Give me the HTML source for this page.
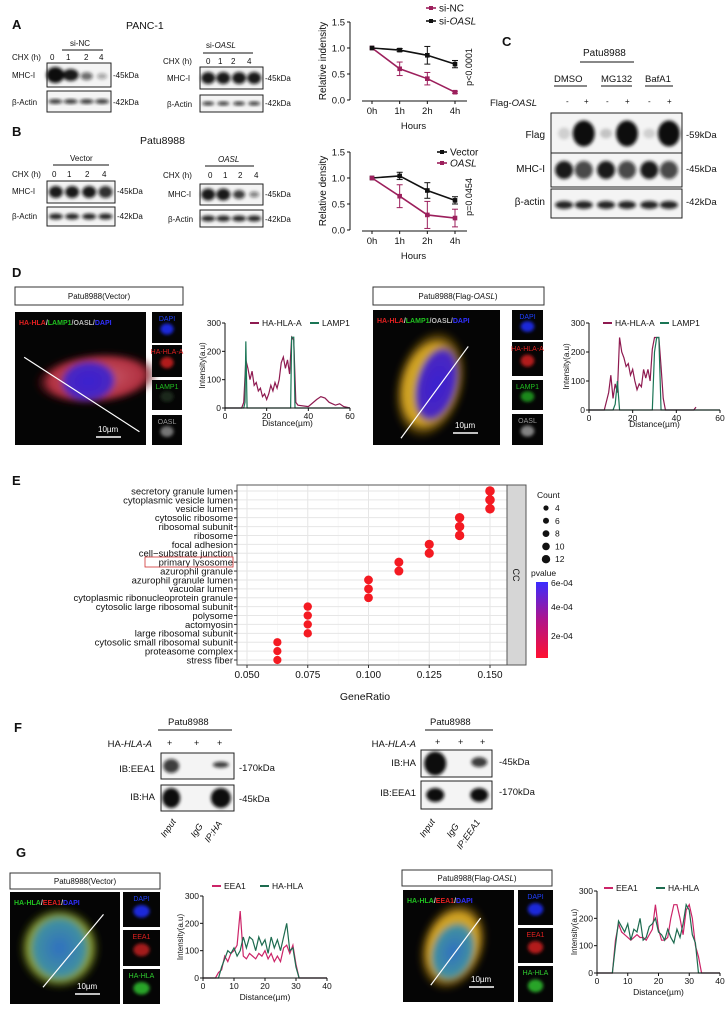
<!DOCTYPE html>
<html><head><meta charset="utf-8">
<style>
html,body{margin:0;padding:0;background:#fff;}
svg{display:block;font-family:"Liberation Sans",sans-serif;}
text{fill:#111;}
</style></head>
<body>
<svg id="fig" width="728" height="1020" viewBox="0 0 728 1020">
<defs>
<filter id="bl" x="-50%" y="-50%" width="200%" height="200%"><feGaussianBlur stdDeviation="1.6"/></filter>
<filter id="bl2" x="-50%" y="-50%" width="200%" height="200%"><feGaussianBlur stdDeviation="3"/></filter>
<radialGradient id="gBlue"><stop offset="0" stop-color="#3a1fd0"/><stop offset="0.8" stop-color="#4a28c0"/><stop offset="1" stop-color="#4a28c0" stop-opacity="0"/></radialGradient>
<radialGradient id="gRed"><stop offset="0" stop-color="#d06070"/><stop offset="0.75" stop-color="#b03040"/><stop offset="1" stop-color="#300" stop-opacity="0"/></radialGradient>
<radialGradient id="gYel"><stop offset="0" stop-color="#c8b040"/><stop offset="0.7" stop-color="#d0a020"/><stop offset="1" stop-color="#604000" stop-opacity="0"/></radialGradient>
<radialGradient id="gGreen"><stop offset="0" stop-color="#70a030"/><stop offset="0.75" stop-color="#90a030"/><stop offset="1" stop-color="#203000" stop-opacity="0"/></radialGradient>
<radialGradient id="gTeal"><stop offset="0" stop-color="#3070c0"/><stop offset="0.8" stop-color="#4090a0"/><stop offset="1" stop-color="#4090a0" stop-opacity="0"/></radialGradient>
<linearGradient id="pcol" x1="0" y1="0" x2="0" y2="1"><stop offset="0" stop-color="#3a2cff"/><stop offset="0.5" stop-color="#b0138a"/><stop offset="1" stop-color="#ff1030"/></linearGradient>
</defs>

<g font-weight="bold" font-size="13">
<text x="12" y="29">A</text>
<text x="12" y="136">B</text>
<text x="502" y="46">C</text>
<text x="12" y="277">D</text>
<text x="12" y="485">E</text>
<text x="14" y="732">F</text>
<text x="16" y="857">G</text>
</g>

<g font-size="9" id="static-text">
<text x="126" y="29" font-size="10.5">PANC-1</text>
<text x="140" y="144" font-size="10.5">Patu8988</text>
<text x="70" y="46" font-size="8">si-NC</text>
<line x1="62" y1="50" x2="103" y2="50" stroke="#111" stroke-width="1"/>
<text x="12" y="60" font-size="8">CHX (h)</text>
<text x="50" y="60" font-size="8">0</text><text x="66" y="60" font-size="8">1</text><text x="84" y="60" font-size="8">2</text><text x="99" y="60" font-size="8">4</text>
<text x="12" y="78" font-size="8">MHC-I</text><text x="12" y="105" font-size="8">β-Actin</text>
<text x="113" y="78" font-size="8">-45kDa</text><text x="113" y="105" font-size="8">-42kDa</text>
<text x="206" y="48" font-size="8">si-<tspan font-style="italic">OASL</tspan></text>
<line x1="203" y1="53" x2="253" y2="53" stroke="#111"/>
<text x="163" y="64" font-size="8">CHX (h)</text>
<text x="206" y="64" font-size="8">0</text><text x="218" y="64" font-size="8">1</text><text x="231" y="64" font-size="8">2</text><text x="247" y="64" font-size="8">4</text>
<text x="167" y="81" font-size="8">MHC-I</text><text x="167" y="107" font-size="8">β-Actin</text>
<text x="265" y="81" font-size="8">-45kDa</text><text x="265" y="106" font-size="8">-42kDa</text>
<text x="70" y="161" font-size="8">Vector</text>
<line x1="53" y1="165" x2="109" y2="165" stroke="#111"/>
<text x="12" y="177" font-size="8">CHX (h)</text>
<text x="52" y="177" font-size="8">0</text><text x="67" y="177" font-size="8">1</text><text x="85" y="177" font-size="8">2</text><text x="102" y="177" font-size="8">4</text>
<text x="12" y="194" font-size="8">MHC-I</text><text x="12" y="219" font-size="8">β-Actin</text>
<text x="117" y="194" font-size="8">-45kDa</text><text x="117" y="219" font-size="8">-42kDa</text>
<text x="218" y="162" font-size="8" font-style="italic">OASL</text>
<line x1="205" y1="166" x2="254" y2="166" stroke="#111"/>
<text x="163" y="178" font-size="8">CHX (h)</text>
<text x="208" y="178" font-size="8">0</text><text x="223" y="178" font-size="8">1</text><text x="238" y="178" font-size="8">2</text><text x="254" y="178" font-size="8">4</text>
<text x="168" y="197" font-size="8">MHC-I</text><text x="168" y="222" font-size="8">β-Actin</text>
<text x="265" y="197" font-size="8">-45kDa</text><text x="265" y="222" font-size="8">-42kDa</text>
<text x="583" y="56" font-size="10">Patu8988</text>
<line x1="580" y1="62" x2="634" y2="62" stroke="#111"/>
<text x="554" y="82" font-size="9.5">DMSO</text><line x1="554" y1="86" x2="587" y2="86" stroke="#111"/>
<text x="601" y="82" font-size="9.5">MG132</text><line x1="601" y1="86" x2="632" y2="86" stroke="#111"/>
<text x="645" y="82" font-size="9.5">BafA1</text><line x1="645" y1="86" x2="673" y2="86" stroke="#111"/>
<text x="490" y="106" font-size="9.5">Flag-<tspan font-style="italic">OASL</tspan></text>
<text x="566" y="104" font-size="8">-</text><text x="584" y="104" font-size="8">+</text>
<text x="606" y="104" font-size="8">-</text><text x="625" y="104" font-size="8">+</text>
<text x="648" y="104" font-size="8">-</text><text x="667" y="104" font-size="8">+</text>
<text x="545" y="138" font-size="10" text-anchor="end">Flag</text>
<text x="545" y="172" font-size="10" text-anchor="end">MHC-I</text>
<text x="545" y="205" font-size="10" text-anchor="end">β-actin</text>
<text x="686" y="138" font-size="9.5">-59kDa</text>
<text x="686" y="172" font-size="9.5">-45kDa</text>
<text x="686" y="205" font-size="9.5">-42kDa</text>
<rect x="15" y="287" width="168" height="18" fill="#fff" stroke="#333"/>
<text x="99" y="299" font-size="8" text-anchor="middle">Patu8988(Vector)</text>
<rect x="373" y="287" width="171" height="18" fill="#fff" stroke="#333"/>
<text x="458" y="299" font-size="8" text-anchor="middle">Patu8988(Flag-<tspan font-style="italic">OASL</tspan>)</text>
<text x="168" y="725" font-size="9.5">Patu8988</text><line x1="158" y1="730" x2="232" y2="730" stroke="#111"/>
<text x="152" y="747" font-size="9.5" text-anchor="end">HA-<tspan font-style="italic">HLA-A</tspan></text>
<text x="167" y="746" font-size="9">+</text><text x="194" y="746" font-size="9">+</text><text x="217" y="746" font-size="9">+</text>
<text x="155" y="772" font-size="9.5" text-anchor="end">IB:EEA1</text>
<text x="155" y="800" font-size="9.5" text-anchor="end">IB:HA</text>
<text x="239" y="771" font-size="9.5">-170kDa</text><text x="239" y="802" font-size="9.5">-45kDa</text>
<text transform="translate(165,838) rotate(-55)" font-size="9" font-style="italic">Input</text>
<text transform="translate(195,838) rotate(-55)" font-size="9" font-style="italic">IgG</text>
<text transform="translate(209,843) rotate(-55)" font-size="9" font-style="italic">IP:HA</text>
<text x="430" y="725" font-size="9.5">Patu8988</text><line x1="425" y1="730" x2="493" y2="730" stroke="#111"/>
<text x="416" y="747" font-size="9.5" text-anchor="end">HA-<tspan font-style="italic">HLA-A</tspan></text>
<text x="435" y="745" font-size="9">+</text><text x="458" y="745" font-size="9">+</text><text x="480" y="745" font-size="9">+</text>
<text x="416" y="766" font-size="9.5" text-anchor="end">IB:HA</text>
<text x="416" y="796" font-size="9.5" text-anchor="end">IB:EEA1</text>
<text x="499" y="765" font-size="9.5">-45kDa</text><text x="499" y="795" font-size="9.5">-170kDa</text>
<text transform="translate(424,838) rotate(-55)" font-size="9" font-style="italic">Input</text>
<text transform="translate(451,838) rotate(-55)" font-size="9" font-style="italic">IgG</text>
<text transform="translate(461,850) rotate(-55)" font-size="9" font-style="italic">IP:EEA1</text>
<rect x="10" y="873" width="150" height="16" fill="#fff" stroke="#333"/>
<text x="85" y="884" font-size="8" text-anchor="middle">Patu8988(Vector)</text>
<rect x="402" y="870" width="150" height="16" fill="#fff" stroke="#333"/>
<text x="477" y="881" font-size="8" text-anchor="middle">Patu8988(Flag-<tspan font-style="italic">OASL</tspan>)</text>
</g>
<g id="dyn"></g>
</svg>
<script>
const hourLabels = ['0h','1h','2h','4h'];
const aSiNC = [1.0, 0.60, 0.41, 0.15];
const aSiNCErr = [0, 0.13, 0.12, 0.02];
const aSiOASL = [1.0, 0.96, 0.86, 0.69];
const aSiOASLErr = [0, 0.03, 0.17, 0.07];
const bVector = [1.0, 1.04, 0.76, 0.57];
const bVectorErr = [0, 0.07, 0.15, 0.07];
const bOASL = [1.0, 0.65, 0.29, 0.23];
const bOASLErr = [0, 0.22, 0.26, 0.17];
const abYTicks = [0.0, 0.5, 1.0, 1.5];
const d1Dist = [0,8,9,10,11,12,13,14,15,16,17,18,19,20,21,22,23,24,25,26,27,28,29,30,31,32,33,34,35,40,44,46,48,50,53,55,57,60];
const d1HLA  = [0,0,20,170,140,100,130,80,90,60,70,40,50,30,50,80,60,90,70,100,160,180,140,170,120,250,240,20,10,5,30,40,35,20,10,15,5,0];
const d1LampDist = [0,9,9.6,10,10.6,31.5,32,33,33.6,60];
const d1Lamp = [0,0,20,235,0,0,250,250,0,0];
const d2Dist = [0,7,9,10,11,12,13,14,15,16,17,18,19,20,21,22,23,24,25,26,27,28,29,30,31,32,33,34,35,48,49];
const d2HLA  = [0,0,60,120,40,90,60,250,200,180,150,160,120,140,100,70,90,80,140,110,140,100,210,250,250,250,150,40,0,0,10];
const d2LampDist = [0,11,12,13,14,29,30,31,32,33,60];
const d2Lamp = [0,0,20,100,0,0,200,250,250,0,0];
const dXTicks = [0,20,40,60];
const intTicks = [0,100,200,300];
const gDist = [0,4,5,6,7,8,9,10,11,12,13,14,15,16,17,18,19,20,21,22,23,24,25,26,27,28,29,30,31,32,33,34,35,40];
const g1EEA1 = [0,0,20,30,80,60,90,100,120,245,80,70,90,80,70,90,80,100,70,90,60,80,60,110,120,90,120,50,0,0,0,0,0,0];
const g1HA   = [0,0,0,40,70,100,90,110,80,100,150,110,150,140,100,150,120,140,90,150,110,140,100,150,200,100,110,40,0,0,0,0,0,0];
const g2EEA1 = [0,0,0,120,180,150,140,130,120,130,140,130,130,120,140,160,250,160,120,120,130,200,250,250,200,140,230,250,200,100,60,0,0,0];
const g2HA   = [0,0,0,100,190,170,150,180,120,160,150,200,120,130,170,180,200,150,140,120,160,130,110,160,130,180,250,230,140,110,0,0,0,0];
const gXTicks = [0,10,20,30,40];
const eTerms = ['secretory granule lumen','cytoplasmic vesicle lumen','vesicle lumen','cytosolic ribosome','ribosomal subunit','ribosome','focal adhesion','cell\u2212substrate junction','primary lysosome','azurophil granule','azurophil granule lumen','vacuolar lumen','cytoplasmic ribonucleoprotein granule','cytosolic large ribosomal subunit','polysome','actomyosin','large ribosomal subunit','cytosolic small ribosomal subunit','proteasome complex','stress fiber'];
const eRatio = [0.150,0.150,0.150,0.1375,0.1375,0.1375,0.125,0.125,0.1125,0.1125,0.100,0.100,0.100,0.075,0.075,0.075,0.075,0.0625,0.0625,0.0625];
const eCount = [12,12,12,11,11,11,10,10,9,9,8,8,8,6,6,6,6,5,5,5];
const eXTicks = [0.050,0.075,0.100,0.125,0.150];
const eCountLegend = [4,6,8,10,12];
const ePvalLabels = ['6e-04','4e-04','2e-04'];

const NS='http://www.w3.org/2000/svg';
const root=document.getElementById('dyn');
function mk(tag, attrs, parent){const e=document.createElementNS(NS,tag);for(const k in attrs)e.setAttribute(k,attrs[k]);(parent||root).appendChild(e);return e;}
function txt(x,y,s,attrs,parent){const e=mk('text',Object.assign({x:x,y:y},attrs||{}),parent);e.textContent=s;return e;}

function blot(name,x,y,w,h,bands){
  const g=mk('g',{});
  
  
  mk('rect',{x:x,y:y,width:w,height:h,fill:'#f4f4f4'},g);
  const bg=mk('g',{filter:'url(#bl)'},g);
  bands.forEach(b=>{mk('ellipse',{cx:x+b[0]*w,cy:y+(b[3]!==undefined?b[3]:0.5)*h,rx:b[1],ry:b[2],fill:'#111','fill-opacity':b[4]!==undefined?b[4]:0.9},bg);});
  mk('rect',{x:x,y:y,width:w,height:h,fill:'none',stroke:'#222','stroke-width':1},g);
}
const L4=[0.13,0.37,0.62,0.86];
blot('blot-a-sinc-mhc',47,63,64,24,[[0.13,9,8,0.5,1],[0.37,8,6,0.5,0.95],[0.62,6,4,0.55,0.6],[0.86,5,3,0.55,0.35]]);
blot('blot-a-sinc-actin',47,91,64,21,L4.map(c=>[c,7,2.2,0.5,0.85]));
blot('blot-a-sioasl-mhc',200,67,63,22,L4.map(c=>[c,7,6,0.5,0.95]));
blot('blot-a-sioasl-actin',200,95,63,17,L4.map(c=>[c,6,1.8,0.5,0.9]));
blot('blot-b-vector-mhc',47,181,68,22,L4.map((c,i)=>[c,7,6,0.5,0.95-0.1*(i==3)]));
blot('blot-b-vector-actin',47,207,68,19,L4.map(c=>[c,7,3,0.5,0.9]));
blot('blot-b-oasl-mhc',200,184,63,21,[[0.13,7,6,0.5,0.95],[0.37,7,6,0.5,0.95],[0.62,6,4.5,0.5,0.8],[0.86,5,3,0.5,0.5]]);
blot('blot-b-oasl-actin',200,210,63,17,L4.map(c=>[c,7,3,0.5,0.9]));
const L6=[0.1,0.25,0.42,0.58,0.75,0.9];
blot('blot-c-flag',551,113,131,41,[[0.1,6,6,0.5,0.15],[0.25,11,13,0.5,1],[0.42,6,5,0.5,0.2],[0.58,11,13,0.5,1],[0.75,6,5,0.5,0.15],[0.9,11,13,0.5,1]]);
blot('blot-c-mhc',551,153,131,34,L6.map((c,i)=>[c,9,9,0.5,i%2?0.75:0.95]));
blot('blot-c-actin',551,189,131,29,L6.map(c=>[c,9,4,0.55,0.9]));
blot('blot-f-left-eea1',161,753,73,26,[[0.14,8,7,0.5,0.8],[0.82,8,3,0.45,0.8]]);
blot('blot-f-left-ha',161,785,73,26,[[0.14,9,10,0.5,1],[0.82,10,10,0.5,1]]);
blot('blot-f-right-ha',421,750,71,27,[[0.2,11,12,0.5,1],[0.82,8,5,0.45,0.8]]);
blot('blot-f-right-eea1',421,781,71,28,[[0.2,9,7,0.5,1],[0.82,9,7,0.5,1]]);

function micro(name,x,y,w,h,blobs,lbl,lineP,scale){
  const g=mk('g',{});
  
  
  mk('rect',{x:x,y:y,width:w,height:h,fill:'#050505'},g);
  const bg=mk('g',{filter:'url(#bl2)'},g);
  blobs.forEach(b=>mk('ellipse',{cx:x+b[0]*w,cy:y+b[1]*h,rx:b[2]*w,ry:b[3]*h,fill:b[4],transform:'rotate('+(b[5]||0)+' '+(x+b[0]*w)+' '+(y+b[1]*h)+')'},bg));
  const t=mk('text',{x:x+4,y:y+13,'font-size':7,'font-weight':'bold'},g);
  lbl.forEach(p=>{const s=mk('tspan',{fill:p[1]},t);s.textContent=p[0];});
  mk('line',{x1:x+lineP[0]*w,y1:y+lineP[1]*h,x2:x+lineP[2]*w,y2:y+lineP[3]*h,stroke:'#fff','stroke-width':1.2},g);
  mk('line',{x1:x+w-scale[0],y1:y+h-scale[1],x2:x+w-scale[0]+25,y2:y+h-scale[1],stroke:'#fff','stroke-width':1.5},g);
  txt(x+w-scale[0]+2,y+h-scale[1]-5,'10µm',{'font-size':8,fill:'#fff',style:'fill:#fff'},g);
}
function thumbs(x,w,items){
  items.forEach(it=>{
    const g=mk('g',{});
    
    
    mk('rect',{x:x,y:it[1],width:w,height:it[2],fill:'#050505'},g);
    mk('ellipse',{cx:x+w/2,cy:it[1]+it[2]*0.55,rx:w*0.22,ry:it[2]*0.18,fill:it[3],'fill-opacity':0.85,filter:'url(#bl)'},g);
    txt(x+w/2,it[1]+9,it[0],{'font-size':7,'text-anchor':'middle',style:'fill:'+it[4]},g);
  });
}
const dLbl=[['HA-HLA','#e02020'],['/','#ddd'],['LAMP1','#20c020'],['/OASL/','#bbb'],['DAPI','#3030ff']];
micro('d-vector-image',15,312,131,133,[[0.62,0.5,0.48,0.2,'url(#gRed)',-5],[0.56,0.52,0.22,0.16,'url(#gBlue)',-5]],dLbl,[0.07,0.34,0.95,0.9],[50,8]);
micro('d-oasl-image',373,310,127,135,[[0.45,0.55,0.28,0.42,'url(#gYel)',15],[0.5,0.55,0.17,0.3,'url(#gBlue)',15]],dLbl,[0.22,0.95,0.75,0.27],[47,12]);
thumbs(152,30,[['DAPI',312,31,'#2030ff','#2040ff'],['HA-HLA-A',345,32,'#d02020','#e02020'],['LAMP1',380,30,'#203020','#20c020'],['OASL',415,30,'#888','#999']]);
thumbs(512,31,[['DAPI',310,30,'#2030ff','#2040ff'],['HA-HLA-A',342,34,'#d02020','#e02020'],['LAMP1',380,30,'#20a020','#20c020'],['OASL',414,31,'#999','#999']]);
const gLbl=[['HA-HLA','#20c020'],['/','#ddd'],['EEA1','#e02020'],['/','#ddd'],['DAPI','#3030ff']];
micro('g-vector-image',10,892,110,112,[[0.45,0.5,0.38,0.38,'url(#gGreen)',0],[0.45,0.5,0.28,0.3,'url(#gTeal)',0]],gLbl,[0.3,0.85,0.85,0.2],[45,10]);
micro('g-oasl-image',403,890,111,112,[[0.45,0.5,0.3,0.42,'url(#gYel)',20],[0.45,0.55,0.2,0.28,'url(#gTeal)',20]],gLbl,[0.25,0.85,0.7,0.25],[45,15]);
thumbs(123,37,[['DAPI',892,35,'#2030ff','#2040ff'],['EEA1',930,36,'#c02020','#e02020'],['HA-HLA',969,35,'#30c030','#30d030']]);
thumbs(518,35,[['DAPI',890,35,'#2030ff','#2040ff'],['EEA1',928,35,'#d02020','#e02020'],['HA-HLA',966,36,'#30c030','#30d030']]);

function timeChart(pref,ax,y0,y1,xs,yTitle,ptext,series,legY){
  const g=mk('g',{});
  
  
  const ys=v=>y0-(v/1.5)*(y0-y1);
  const xp=i=>xs[0]+i*(xs[1]-xs[0])/(hourLabels.length-1);
  mk('line',{x1:ax,y1:y1,x2:ax,y2:y0,stroke:'#111','stroke-width':1},g);
  mk('line',{x1:xs[0]-10,y1:y0+1,x2:xs[1]+12,y2:y0+1,stroke:'#111'},g);
  abYTicks.forEach(t=>{mk('line',{x1:ax-3,y1:ys(t),x2:ax,y2:ys(t),stroke:'#111'},g);txt(ax-5,ys(t)+3.5,t.toFixed(1),{'font-size':9.5,'text-anchor':'end'},g);});
  hourLabels.forEach((h,i)=>{mk('line',{x1:xp(i),y1:y0+1,x2:xp(i),y2:y0+4,stroke:'#111'},g);txt(xp(i),y0+14,h,{'font-size':9.5,'text-anchor':'middle'},g);});
  txt((xs[0]+xs[1])/2,y0+29,'Hours',{'font-size':9.5,'text-anchor':'middle'},g);
  txt(0,0,yTitle,{'font-size':10,'text-anchor':'middle',transform:'translate('+(ax-24)+','+((y0+y1)/2)+') rotate(-90)'},g);
  txt(0,0,ptext,{'font-size':9,'text-anchor':'middle',transform:'translate('+(xs[1]+17)+','+(y0-33)+') rotate(-90)'},g);
  series.forEach((s,k)=>{
    const pts=s.vals.map((v,i)=>xp(i)+','+ys(v)).join(' ');
    const pl=mk('polyline',{points:pts,fill:'none',stroke:s.col,'stroke-width':1.6},g);
    
    
    s.vals.forEach((v,i)=>{
      if(s.err[i]>0){mk('line',{x1:xp(i),y1:ys(v+s.err[i]),x2:xp(i),y2:ys(v-s.err[i]),stroke:s.col},g);
        mk('line',{x1:xp(i)-3,y1:ys(v+s.err[i]),x2:xp(i)+3,y2:ys(v+s.err[i]),stroke:s.col},g);
        mk('line',{x1:xp(i)-3,y1:ys(v-s.err[i]),x2:xp(i)+3,y2:ys(v-s.err[i]),stroke:s.col},g);}
      const m=mk('rect',{x:xp(i)-2.3,y:ys(v)-2.3,width:4.6,height:4.6,fill:s.col},g);
      
      
    });
    const ly=legY[k];
    const lg=mk('g',{},g);
    
    
    mk('line',{x1:s.lx,y1:ly,x2:s.lx+10,y2:ly,stroke:s.col,'stroke-width':1.6},lg);
    mk('rect',{x:s.lx+3,y:ly-2,width:4,height:4,fill:s.col},lg);
    const t=txt(s.lx+13,ly+3.5,s.pre,{'font-size':10},lg);
    if(s.it){const sp=mk('tspan',{'font-style':'italic'},t);sp.textContent=s.it;}
  });
}
timeChart('a',350,100,22,[372,455],'Relative indensity','p<0.0001',[
 {key:'si-nc',vals:aSiNC,err:aSiNCErr,col:'#9c1f5c',lx:426,pre:'si-NC'},
 {key:'si-oasl',vals:aSiOASL,err:aSiOASLErr,col:'#111',lx:426,pre:'si-',it:'OASL'}],[8,21]);
timeChart('b',350,230,152,[372,455],'Relative density','p=0.0454',[
 {key:'vector',vals:bVector,err:bVectorErr,col:'#111',lx:437,pre:'Vector'},
 {key:'oasl',vals:bOASL,err:bOASLErr,col:'#9c1f5c',lx:437,pre:'',it:'OASL'}],[152,163]);

function profile(pref,ax,y0,y1,xr,xmax,xticks,series,legX,legY,titleY){
  const g=mk('g',{});
  
  
  const xs=v=>ax+v/xmax*(xr-ax), ys=v=>y0-v/300*(y0-y1);
  series.forEach(s=>{
    const pl=mk('polyline',{points:s.x.map((d,i)=>xs(d)+','+ys(s.y[i])).join(' '),fill:'none',stroke:s.col,'stroke-width':1.2},g);
    
    
  });
  mk('line',{x1:ax,y1:y1,x2:ax,y2:y0,stroke:'#111'},g);
  mk('line',{x1:ax,y1:y0,x2:xr,y2:y0,stroke:'#111'},g);
  intTicks.forEach(t=>{mk('line',{x1:ax-3,y1:ys(t),x2:ax,y2:ys(t),stroke:'#111'},g);txt(ax-4,ys(t)+3,String(t),{'font-size':8.5,'text-anchor':'end'},g);});
  xticks.forEach(t=>{mk('line',{x1:xs(t),y1:y0,x2:xs(t),y2:y0+3,stroke:'#111'},g);txt(xs(t),y0+11,String(t),{'font-size':8.5,'text-anchor':'middle'},g);});
  txt((ax+xr)/2,titleY,'Distance(µm)',{'font-size':8.5,'text-anchor':'middle'},g);
  txt(0,0,'Intensity(a.u)',{'font-size':8,'text-anchor':'middle',transform:'translate('+(ax-20)+','+((y0+y1)/2)+') rotate(-90)'},g);
  series.forEach((s,k)=>{
    const lg=mk('g',{},g);
    
    
    mk('line',{x1:legX[k],y1:legY,x2:legX[k]+9,y2:legY,stroke:s.col,'stroke-width':2},lg);
    txt(legX[k]+12,legY+3,s.name,{'font-size':8.5},lg);
  });
}
profile('d1',225,408,323,350,60,dXTicks,[{key:'ha-hla-a',name:'HA-HLA-A',x:d1Dist,y:d1HLA,col:'#8e1a50'},{key:'lamp1',name:'LAMP1',x:d1LampDist,y:d1Lamp,col:'#1a7555'}],[250,310],323,426);
profile('d2',589,410,323,720,60,dXTicks,[{key:'ha-hla-a',name:'HA-HLA-A',x:d2Dist,y:d2HLA,col:'#8e1a50'},{key:'lamp1',name:'LAMP1',x:d2LampDist,y:d2Lamp,col:'#1a7555'}],[603,660],323,427);
profile('g1',203,978,896,327,40,gXTicks,[{key:'eea1',name:'EEA1',x:gDist,y:g1EEA1,col:'#cc2468'},{key:'ha-hla',name:'HA-HLA',x:gDist,y:g1HA,col:'#1d6b4f'}],[212,260],886,1000);
profile('g2',597,973,891,720,40,gXTicks,[{key:'eea1',name:'EEA1',x:gDist,y:g2EEA1,col:'#cc2468'},{key:'ha-hla',name:'HA-HLA',x:gDist,y:g2HA,col:'#1d6b4f'}],[604,656],888,995);

(function(){
  const g=mk('g',{});
  
  
  const L=237,R=507,T=485,B=665;
  const xs=v=>247+(v-0.05)/0.1*(490-247);
  const row0=491, rowStep=(660-491)/(eTerms.length-1);
  const ys=i=>row0+i*rowStep;
  mk('rect',{x:L,y:T,width:R-L,height:B-T,fill:'#fff'},g);
  for(let k=0;k<eXTicks.length*2-1;k++){const v=0.05+k*0.0125;mk('line',{x1:xs(v),y1:T,x2:xs(v),y2:B,stroke:k%2?'#f2f2f2':'#e6e6e6','stroke-width':k%2?0.6:1},g);}
  eTerms.forEach((t,i)=>{mk('line',{x1:L,y1:ys(i),x2:R,y2:ys(i),stroke:'#e6e6e6'},g);});
  mk('rect',{x:L,y:T,width:R-L,height:B-T,fill:'none',stroke:'#555'},g);
  mk('rect',{x:R,y:T,width:19,height:B-T,fill:'#d6d6d6',stroke:'#555'},g);
  txt(0,0,'CC',{'font-size':9,'text-anchor':'middle',transform:'translate('+(R+6)+','+((T+B)/2)+') rotate(90)'},g);
  eTerms.forEach((t,i)=>{
    mk('line',{x1:L-3,y1:ys(i),x2:L,y2:ys(i),stroke:'#333'},g);
    const lb=txt(L-4,ys(i)+3.4,t,{'font-size':9.5,'text-anchor':'end',fill:'#222'},g);
    
    
    const d=mk('circle',{cx:xs(eRatio[i]),cy:ys(i),r:3.6+eCount[i]*0.1,fill:'#f41a22'},g);
    
    
  });
  mk('rect',{x:145,y:557,width:88,height:10,fill:'none',stroke:'#d03030','stroke-width':0.8},g);
  eXTicks.forEach(v=>{mk('line',{x1:xs(v),y1:B,x2:xs(v),y2:B+3,stroke:'#333'},g);txt(xs(v),B+13,v.toFixed(3),{'font-size':10,'text-anchor':'middle',fill:'#333'},g);});
  txt(365,700,'GeneRatio',{'font-size':10.5,'text-anchor':'middle'},g);
  txt(537,498,'Count',{'font-size':8.5},g);
  eCountLegend.forEach((c,i)=>{const yy=508+i*12.8;const d=mk('circle',{cx:546,cy:yy,r:1.8+c*0.2,fill:'#111'},g);
    
    
    txt(555,yy+3,String(c),{'font-size':8.5},g);});
  txt(531,576,'pvalue',{'font-size':8.5},g);
  const cb=mk('rect',{x:536,y:582,width:12,height:76,fill:'url(#pcol)'},g);
  
  
  ePvalLabels.forEach((s,i)=>txt(551,[586,610,639][i],s,{'font-size':8.5},g));
})();
</script>
</body></html>
